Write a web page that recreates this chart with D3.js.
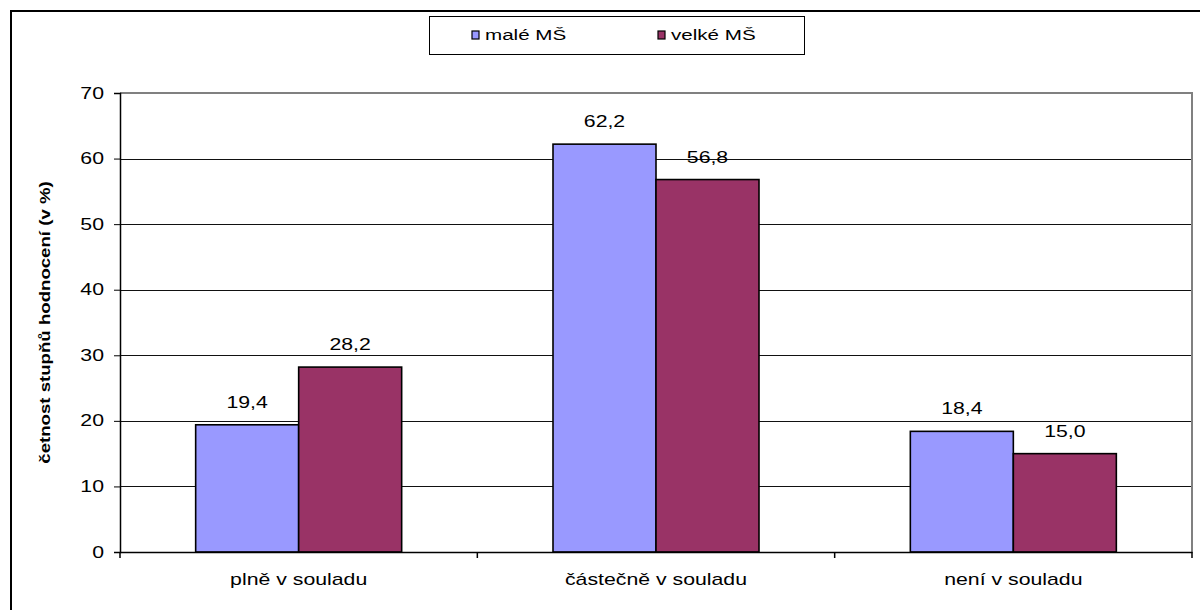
<!DOCTYPE html>
<html>
<head>
<meta charset="utf-8">
<script src="https://cdn.jsdelivr.net/npm/d3@7"></script>
<style>
  body { margin: 0; background: #fff; }
  svg { font-family: "Liberation Sans", Arial, sans-serif; }
</style>
</head>
<body>
<div id="content"></div>
<script>
// data
const categories = ["plně v souladu", "částečně v souladu", "není v souladu"]
const seriesNames = ["malé MŠ", "velké MŠ"]
const maleMS = [19.4, 62.2, 18.4]
const velkeMS = [28.2, 56.8, 15.0]
const yTicks = [0, 10, 20, 30, 40, 50, 60, 70]
const colors = ["#9999ff", "#993366"]

const outerWidth = 1200
const outerHeight = 610
const margin = {top: 93, right: 8, bottom: 58, left: 120}
const width = outerWidth - margin.left - margin.right
const height = outerHeight - margin.top - margin.bottom

// the original text is rendered wider than Liberation Sans
const SX = 1.33
function stretch(sel) {
  sel.each(function() {
    const t = d3.select(this)
    const x = +t.attr("x") || 0
    const y = +t.attr("y") || 0
    const prev = t.attr("transform") || ""
    t.attr("x", 0).attr("y", 0)
      .attr("transform", `${prev} translate(${x},${y}) scale(${SX},1)`)
  })
}

const svg = d3.select("#content").append("svg")
    .attr("width", outerWidth)
    .attr("height", outerHeight)

// outer frame
svg.append("path")
    .attr("d", "M11,612 L11,11 L1202,11")
    .attr("fill", "none")
    .attr("stroke", "#000")
    .attr("stroke-width", 2)

const wrapper = svg.append("g")
    .attr("transform", `translate(${margin.left}, ${margin.top})`)

// scales
const xScale = d3.scaleBand()
    .domain(categories)
    .range([0, width])
const barW = 103
const xSub = d3.scaleBand()
    .domain(seriesNames)
    .range([xScale.bandwidth() / 2 - barW, xScale.bandwidth() / 2 + barW])

const yScale = d3.scaleLinear()
    .domain([0, 70])
    .range([height, 0])

// gridlines
wrapper.append("g")
    .selectAll("line")
    .data(yTicks.slice(1))
    .join("line")
    .attr("x1", 0)
    .attr("x2", width)
    .attr("y1", d => Math.round(yScale(d)) + 0.5)
    .attr("y2", d => Math.round(yScale(d)) + 0.5)
    .attr("stroke", "#111")
    .attr("stroke-width", 1)
    .attr("shape-rendering", "crispEdges")

// plot border (top + right)
wrapper.append("path")
    .attr("d", `M0,0 L${width},0 L${width},${height}`)
    .attr("fill", "none")
    .attr("stroke", "#808080")
    .attr("stroke-width", 2)

// bars
const rows = categories.map((c, i) => ({cat: c, values: [maleMS[i], velkeMS[i]]}))
const groups = wrapper.selectAll(".grp")
    .data(rows)
    .join("g")
    .attr("class", "grp")
    .attr("transform", d => `translate(${xScale(d.cat)}, 0)`)

groups.selectAll("rect")
    .data(d => d.values.map((v, j) => ({name: seriesNames[j], v, j})))
    .join("rect")
    .attr("x", d => xSub(d.name))
    .attr("y", d => yScale(d.v))
    .attr("width", xSub.bandwidth())
    .attr("height", d => height - yScale(d.v))
    .attr("fill", d => colors[d.j])
    .attr("stroke", "#000")
    .attr("stroke-width", 1.6)

groups.selectAll("text")
    .data(d => d.values.map((v, j) => ({name: seriesNames[j], v, j})))
    .join("text")
    .attr("x", d => xSub(d.name) + xSub.bandwidth() / 2)
    .attr("y", d => yScale(d.v) - 17)
    .attr("text-anchor", "middle")
    .style("font-size", "16px")
    .text(d => d.v.toFixed(1).replace(".", ","))
    .call(stretch)

// y axis
const yAxis = d3.axisLeft(yScale)
    .tickValues(yTicks)
    .tickSize(6)
    .tickPadding(10)
    .tickFormat(d3.format("d"))
const yG = wrapper.append("g").call(yAxis)
yG.select(".domain").attr("stroke", "#000").attr("stroke-width", 1.5)
yG.selectAll("text").style("font-size", "16px").attr("fill", "#000")
    .style("font-family", "Liberation Sans, Arial, sans-serif")
    .call(stretch)

// x axis
const xAxis = d3.axisBottom(xScale)
    .tickSize(0)
    .tickPadding(22)
const xG = wrapper.append("g")
    .attr("transform", `translate(0, ${height})`)
    .call(xAxis)
xG.select(".domain").attr("stroke", "#000").attr("stroke-width", 1.5)
xG.selectAll("text").style("font-size", "16px").attr("fill", "#000")
    .style("font-family", "Liberation Sans, Arial, sans-serif")
    .call(stretch)
xG.selectAll(".sep")
    .data(d3.range(categories.length + 1))
    .join("line")
    .attr("class", "sep")
    .attr("x1", i => i * xScale.step())
    .attr("x2", i => i * xScale.step())
    .attr("y1", 0)
    .attr("y2", 6)
    .attr("stroke", "#000")
    .attr("stroke-width", 1.5)

// y title
svg.append("text")
    .attr("transform", `translate(50, ${margin.top + height / 2}) rotate(-90) scale(${SX},1)`)
    .attr("text-anchor", "middle")
    .style("font-size", "14px")
    .style("font-weight", "bold")
    .text("četnost stupňů hodnocení (v %)")

// legend
svg.append("rect")
    .attr("x", 429.5)
    .attr("y", 16.5)
    .attr("width", 375)
    .attr("height", 38)
    .attr("fill", "#fff")
    .attr("stroke", "#000")
    .attr("stroke-width", 1)
const legend = svg.append("g")
const legendX = [472, 658]
seriesNames.forEach((name, i) => {
  legend.append("rect")
    .attr("x", legendX[i])
    .attr("y", 31)
    .attr("width", 7)
    .attr("height", 8)
    .attr("fill", colors[i])
    .attr("stroke", "#000")
    .attr("stroke-width", 1.2)
  legend.append("text")
    .attr("x", legendX[i] + 13)
    .attr("y", 40)
    .style("font-size", "15.5px")
    .text(name)
    .call(stretch)
})
</script>
</body>
</html>
